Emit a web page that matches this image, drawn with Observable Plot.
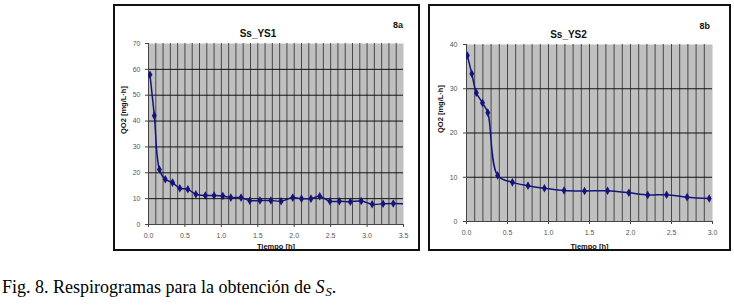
<!DOCTYPE html>
<html>
<head>
<meta charset="utf-8">
<script src="https://cdn.jsdelivr.net/npm/d3@7"></script>
<script src="https://cdn.jsdelivr.net/npm/@observablehq/plot@0.6"></script>
<style>
  html, body { margin: 0; padding: 0; background: #fff; }
  #root { position: relative; width: 734px; height: 306px; overflow: hidden; background: #fff; }
  .panel { position: absolute; box-sizing: border-box; border: 2px solid #111; }
  .chart { position: absolute; }
  #caption { position: absolute; left: 0; top: 0; }
</style>
</head>
<body>
<div id="root">
  <div class="panel" style="left:113px;top:4px;width:307px;height:247px;"></div>
  <div class="panel" style="left:428px;top:4px;width:303px;height:247px;"></div>
  <div class="chart" id="c1" style="left:113px;top:4px;"></div>
  <div class="chart" id="c2" style="left:428px;top:4px;"></div>
  <svg id="caption" width="734" height="306" style="pointer-events:none">
    <text x="2" y="293" font-family="'Liberation Serif', 'Times New Roman', serif" font-size="18" fill="#000">Fig. 8. Respirogramas para la obtención de <tspan font-style="italic">S</tspan><tspan font-style="italic" font-size="12.5" dy="2.5" dx="1">S</tspan><tspan dy="-2.5">.</tspan></text>
  </svg>
</div>
<script>
// ---- Data ----
const ys1Time = [0.02, 0.08, 0.15, 0.23, 0.33, 0.43, 0.54, 0.65, 0.78, 0.90, 1.02, 1.13, 1.27, 1.39, 1.53, 1.68, 1.82, 1.98, 2.10, 2.23, 2.35, 2.49, 2.62, 2.77, 2.92, 3.07, 3.22, 3.36, 3.55];
const ys1QO2  = [57.9, 42.1, 21.3, 17.5, 16.2, 14.0, 13.6, 11.7, 11.2, 11.2, 11.0, 10.4, 10.4, 9.2, 9.3, 9.3, 9.0, 10.4, 10.0, 10.0, 10.9, 9.0, 9.0, 8.8, 9.1, 7.8, 8.0, 8.1, 8.0];

const ys2Time = [0.01, 0.065, 0.12, 0.195, 0.26, 0.38, 0.56, 0.75, 0.95, 1.19, 1.44, 1.72, 1.98, 2.21, 2.44, 2.69, 2.96];
const ys2QO2  = [37.5, 33.4, 29.1, 26.8, 24.6, 10.4, 8.85, 8.1, 7.5, 7.0, 6.9, 6.95, 6.5, 6.0, 6.05, 5.5, 5.2];

const ys1XTicks = [0, 0.5, 1, 1.5, 2, 2.5, 3, 3.5];
const ys1YTicks = [0, 10, 20, 30, 40, 50, 60, 70];
const ys2XTicks = [0, 0.5, 1, 1.5, 2, 2.5, 3];
const ys2YTicks = [0, 10, 20, 30, 40];

const titles = ["Ss_YS1", "Ss_YS2"];
const panelTags = ["8a", "8b"];
const xLabel = "Tiempo [h]";
const yLabel = "QO2 [mg/L·h]";

const NAVY = "#14147a";
const FONT = "'Liberation Sans', Arial, sans-serif";

function makeChart(cfg) {
  const data = cfg.t.map((t, i) => ({t, q: cfg.q[i]}));
  const xMax = cfg.xTicks[cfg.xTicks.length - 1];
  const yMax = cfg.yTicks[cfg.yTicks.length - 1];
  const minor = d3.range(1, Math.round(xMax * 10)).map(i => i / 10);
  const majorY = cfg.yTicks.filter(v => v > 0 && v < yMax);
  return Plot.plot({
    width: cfg.width,
    height: cfg.height,
    marginLeft: cfg.ml, marginRight: cfg.mr, marginTop: cfg.mt, marginBottom: cfg.mb,
    style: {fontFamily: FONT, fontSize: "7px", background: "transparent", overflow: "visible", color: "#555"},
    x: {domain: [0, xMax]},
    y: {domain: [0, yMax]},
    marks: [
      Plot.frame({fill: "#c0c0c0", stroke: "none"}),
      Plot.ruleX(minor, {stroke: "#3a3a3a", strokeWidth: 0.9}),
      Plot.ruleY(majorY, {stroke: "#000", strokeWidth: 0.9}),
      Plot.ruleX([0], {stroke: "#444", strokeWidth: 1}),
      Plot.ruleY([0], {stroke: "#444", strokeWidth: 1}),
      Plot.axisX({ticks: cfg.xTicks, tickSize: 3, tickPadding: cfg.xpad, label: null, stroke: "#444", fill: "#555", fontSize: 7}),
      Plot.axisY({ticks: cfg.yTicks, tickSize: 3, tickPadding: cfg.ypad, label: null, stroke: "#444", fill: "#555", fontSize: 7}),
      Plot.line(data, {x: "t", y: "q", curve: "catmull-rom", stroke: NAVY, strokeWidth: 1.5, clip: true}),
      Plot.dot(data, {x: "t", y: "q", symbol: "diamond", r: 2.6, fill: NAVY, stroke: "none", clip: true}),
      Plot.text([cfg.title], {frameAnchor: "top", dx: cfg.tdx, dy: cfg.tdy, fontWeight: "bold", fontSize: 10, fill: "#111"}),
      Plot.text([cfg.tag], {frameAnchor: "top-right", dx: cfg.gdx, dy: cfg.gdy, fontWeight: "bold", fontSize: 9, fill: "#111"}),
      Plot.text([xLabel], {frameAnchor: "bottom", dy: cfg.xldy, fontWeight: "bold", fontSize: 7.5, fill: "#111"}),
      Plot.text([yLabel], {frameAnchor: "left", dx: cfg.yldx, rotate: -90, fontWeight: "bold", fontSize: 7.5, fill: "#111"})
    ]
  });
}

document.getElementById("c1").append(makeChart({
  t: ys1Time, q: ys1QO2, xTicks: ys1XTicks, yTicks: ys1YTicks,
  width: 307, height: 247, ml: 35, mr: 17, mt: 39, mb: 27,
  xpad: 6, ypad: 5,
  title: titles[0], tag: panelTags[0],
  tdx: -18, tdy: -14, gdx: -0.5, gdy: -21.5, xldy: 24, yldx: -24.5
}));

document.getElementById("c2").append(makeChart({
  t: ys2Time, q: ys2QO2, xTicks: ys2XTicks, yTicks: ys2YTicks,
  width: 303, height: 247, ml: 38, mr: 19, mt: 40, mb: 30,
  xpad: 6, ypad: 6,
  title: titles[1], tag: panelTags[1],
  tdx: -21, tdy: -13.5, gdx: -2.5, gdy: -22, xldy: 27, yldx: -26
}));
</script>
</body>
</html>
